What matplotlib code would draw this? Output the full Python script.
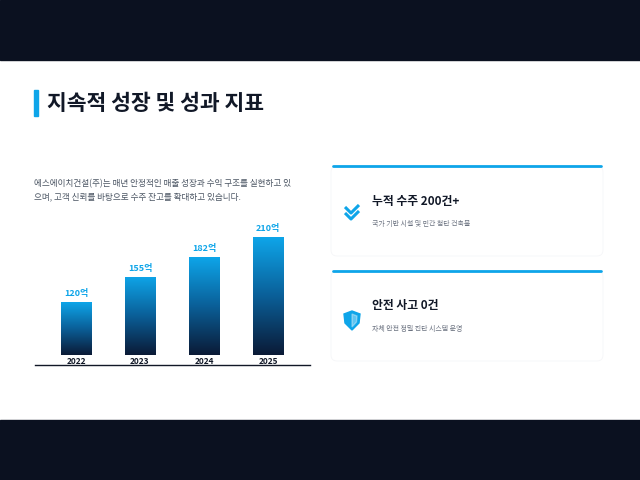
import matplotlib
matplotlib.use("Agg")
import matplotlib.pyplot as plt
import numpy as np
from matplotlib.patches import Rectangle, FancyBboxPatch, Polygon
from matplotlib.colors import LinearSegmentedColormap

plt.rcParams['font.family'] = ['Noto Sans CJK KR', 'DejaVu Sans']

years = ["2022", "2023", "2024", "2025"]
values = [120, 155, 182, 210]
labels = ["120억", "155억", "182억", "210억"]

W, H = 640, 480
fig = plt.figure(figsize=(6.4, 4.8), dpi=100)
bg = fig.add_axes([0, 0, 1, 1])
bg.set_xlim(0, W); bg.set_ylim(H, 0); bg.axis('off')
dark = '#0b1120'
bg.add_patch(Rectangle((0, 0), W, 60, color=dark))
bg.add_patch(Rectangle((0, 420), W, 60, color=dark))
blue = '#0ea5e9'
bg.add_patch(Rectangle((34, 90), 4, 26, color=blue))
bg.text(47, 103, "지속적 성장 및 성과 지표", fontsize=15.5, fontweight='bold', color='#111827', va='center')
bg.text(34, 184, "에스에이치건설(주)는 매년 안정적인 매출 성장과 수익 구조를 실현하고 있", fontsize=6.2, color='#4b5563', va='center')
bg.text(34, 197, "으며, 고객 신뢰를 바탕으로 수주 잔고를 확대하고 있습니다.", fontsize=6.2, color='#4b5563', va='center')

# cards
for top, title, sub in [(166, "누적 수주 200건+", "국가 기반 시설 및 민간 첨단 건축물"),
                        (271, "안전 사고 0건", "자체 안전 정밀 진단 시스템 운영")]:
    bg.add_patch(FancyBboxPatch((331, top), 272, 90, boxstyle="round,pad=0,rounding_size=6",
                                fc='white', ec='#f5f6f8', lw=0.6))
    bg.plot([333, 601], [top, top], color=blue, lw=2, solid_capstyle='round')
    bg.text(372, top + 35, title, fontsize=8.5, fontweight='bold', color='#111827', va='center')
    bg.text(372, top + 58, sub, fontsize=5, color='#6b7280', va='center')
# check icon
for dy in (0, 6):
    bg.plot([345, 351, 359], [207 + dy, 213 + dy, 205 + dy], color=blue, lw=2.2, solid_capstyle='butt')
# shield icon
bg.add_patch(Polygon([[352, 311], [360, 314], [359, 323], [352, 330], [345, 323], [344, 314]], closed=True, color=blue))
bg.add_patch(Polygon([[352, 314], [357, 316], [356.5, 322], [352, 327]], closed=True, color='white', alpha=0.35))

# chart
ymin, ymax = 33, 240
a = 0.722
bar_base = ymin + 10 / a
axh = (ymax - ymin) * a
ax = fig.add_axes([35 / W, (H - 365) / H, 275 / W, axh / H])
cmap = LinearSegmentedColormap.from_list('g', ['#0b1a36', '#0a5f98', '#0ea5e9'])
grad = np.linspace(0, 1, 256).reshape(-1, 1)
xs = np.arange(len(values))
bw = 0.47
for x, v, lab, yr in zip(xs, values, labels, years):
    r = Rectangle((x - bw / 2, bar_base), bw, v - bar_base, fc='none', ec='none')
    ax.add_patch(r)
    im = ax.imshow(grad, cmap=cmap, extent=[x - bw / 2, x + bw / 2, bar_base, v], origin='lower', aspect='auto', zorder=2)
    im.set_clip_path(r)
    ax.text(x, v + 6, lab, ha='center', va='bottom', fontsize=6.5, fontweight='bold', color=blue)
    ax.text(x, ymin + 3 / a, yr, ha='center', va='center', fontsize=6, fontweight='bold', color='#111827')
ax.set_xlim(-41 / 64, -41 / 64 + 275 / 64)
ax.set_ylim(ymin, ymax)
ax.axis('off')
ax.axhline(ymin, color='#111827', lw=1, clip_on=False)

fig.savefig("out.png", dpi=100)
